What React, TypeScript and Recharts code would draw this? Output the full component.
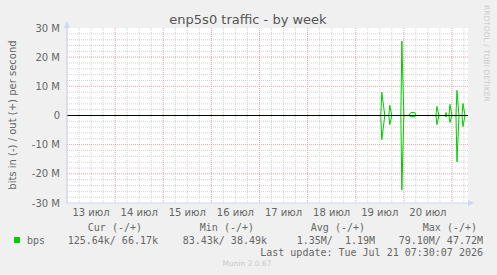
import React from "react";
import { ComposedChart, Line, XAxis, YAxis, ReferenceLine, CartesianGrid } from "recharts";

// hours since 13 Jul 00:00
const hours = [0, 156.5, 157, 158.5, 160.5, 161, 162, 166.5, 167, 168, 170.5, 171.5, 173.5, 174, 184, 184.5, 185.5, 188.5, 189, 189.5, 190.5, 191, 192, 194, 194.5, 195.5, 197, 197.5, 198.5, 200];
// out (+) in Mbit/s
const outMbps = [0.01, 0.01, 8.0, 0.01, 0.01, 3.5, 0.01, 0.01, 25.5, 0.02, 0.01, 1.0, 1.0, 0.01, 0.01, 3.1, 0.01, 0.01, 1.0, 0.01, 0.01, 3.8, 0.01, 0.01, 8.6, 0.02, 0.01, 4.1, 0.01, 0.02];
// in (-) in Mbit/s (drawn negative)
const inMbps = [0.01, 0.01, 8.3, 0.02, 0.01, 3.1, 0.02, 0.01, 25.5, 0.01, 0.01, 0.4, 0.4, 0.01, 0.01, 3.1, 0.01, 0.01, 0.5, 0.01, 0.01, 2.4, 0.01, 0.01, 15.9, 0.02, 0.01, 3.8, 0.01, 0.03];

const dayLabels = ["13 июл", "14 июл", "15 июл", "16 июл", "17 июл", "18 июл", "19 июл", "20 июл"];
const dayLabelTicks = [12, 36, 60, 84, 108, 132, 156, 180];
const yTicks = [-30, -20, -10, 0, 10, 20, 30];
const majorX = [0, 24, 48, 72, 96, 120, 144, 168, 192];
const minorX = [6, 12, 18, 30, 36, 42, 54, 60, 66, 78, 84, 90, 102, 108, 114, 126, 132, 138, 150, 156, 162, 174, 180, 186, 198];
const majorY = [-20, -10, 10, 20];
const minorY = [-28, -26, -24, -22, -18, -16, -14, -12, -8, -6, -4, -2, 2, 4, 6, 8, 12, 14, 16, 18, 22, 24, 26, 28];

const legendHeaders = ["Cur (-/+)", "Min (-/+)", "Avg (-/+)", "Max (-/+)"];
const legendValues = ["125.64k/ 66.17k", "83.43k/ 38.49k", "1.35M/  1.19M", "79.10M/ 47.72M"];

const data = hours.map((h, i) => ({ h, out: outMbps[i], inn: -inMbps[i], zero: 0 }));

const FONT = "DejaVu Sans, Verdana, sans-serif";
const MONO = "DejaVu Sans Mono, monospace";
const TXT = "#666666";
const AXIS = "#CFD6F8";

export default function App() {
  const headerEnds = [142, 254, 365, 477];
  const valueEnds = [158, 267, 375, 483];
  return (
    <div style={{ position: "absolute", left: 0, top: 0, width: 497, height: 275, background: "#f0f0f0" }}>
      <ComposedChart width={497} height={275} data={data} margin={{ top: 28, right: 29, left: 7, bottom: 52 }}>
        <CartesianGrid fill="#ffffff" stroke="transparent" />
        {minorX.map((v) => (
          <ReferenceLine key={"mx" + v} x={v} stroke="#d2d2d2" strokeDasharray="1 1" />
        ))}
        {minorY.map((v) => (
          <ReferenceLine key={"my" + v} y={v} stroke="#d2d2d2" strokeDasharray="1 1" />
        ))}
        {majorX.map((v) => (
          <ReferenceLine key={"Mx" + v} x={v} stroke="#dfa4a4" strokeDasharray="1 1" />
        ))}
        {majorY.map((v) => (
          <ReferenceLine key={"My" + v} y={v} stroke="#dfa4a4" strokeDasharray="1 1" />
        ))}
        <XAxis
          dataKey="h"
          type="number"
          domain={[0, 200]}
          ticks={dayLabelTicks}
          tickFormatter={(v: number) => dayLabels[dayLabelTicks.indexOf(v)] ?? ""}
          tickLine={false}
          axisLine={{ stroke: AXIS }}
          height={20}
          tick={{ fill: TXT, fontSize: 10, fontFamily: FONT }}
          tickSize={4}
          interval={0}
        />
        <YAxis
          type="number"
          domain={[-30, 30]}
          ticks={yTicks}
          tickFormatter={(v: number) => (v === 0 ? "0" : `${v} M`)}
          tickLine={false}
          axisLine={{ stroke: AXIS }}
          width={60}
          tickSize={5}
          tickMargin={2}
          tick={{ fill: TXT, fontSize: 10, fontFamily: FONT }}
          interval={0}
        />
        <Line type="linear" dataKey="out" stroke="#00cc00" strokeWidth={1} dot={false} isAnimationActive={false} />
        <Line type="linear" dataKey="inn" stroke="#00cc00" strokeWidth={1} dot={false} isAnimationActive={false} />
        <Line type="linear" dataKey="zero" stroke="#000000" strokeWidth={1.2} dot={false} isAnimationActive={false} />
      </ComposedChart>
      <svg width={497} height={275} style={{ position: "absolute", left: 0, top: 0, pointerEvents: "none" }}>
        <text x={248} y={23.5} textAnchor="middle" fontFamily={FONT} fontSize={13} fill="#555555">
          enp5s0 traffic - by week
        </text>
        <text
          x={0}
          y={0}
          transform="translate(15.5,115) rotate(-90)"
          textAnchor="middle"
          fontFamily={FONT}
          fontSize={10}
          fill={TXT}
        >
          bits in (-) / out (+) per second
        </text>
        <text
          x={0}
          y={0}
          transform="translate(484,5) rotate(90)"
          textAnchor="start"
          fontFamily={FONT}
          fontSize={7.5}
          fill="#cccccc"
        >
          RRDTOOL / TOBI OETIKER
        </text>
        <polygon points="64,28 70,28 67,21" fill={AXIS} />
        <polygon points="468,200 468,206 474,203" fill={AXIS} />
        {legendHeaders.map((t, i) => (
          <text key={t} x={headerEnds[i]} y={231} textAnchor="end" fontFamily={MONO} fontSize={10} fill={TXT} style={{ whiteSpace: "pre" }}>
            {t}
          </text>
        ))}
        <rect x={14} y={237} width={6} height={6} fill="#00cc00" />
        <text x={27} y={243.5} fontFamily={MONO} fontSize={10} fill={TXT}>
          bps
        </text>
        {legendValues.map((t, i) => (
          <text key={t} x={valueEnds[i]} y={243.5} textAnchor="end" fontFamily={MONO} fontSize={10} fill={TXT} style={{ whiteSpace: "pre" }} xmlSpace="preserve">
            {t}
          </text>
        ))}
        <text x={483} y={255.5} textAnchor="end" fontFamily={MONO} fontSize={10} fill={TXT}>
          Last update: Tue Jul 21 07:30:07 2026
        </text>
        <text x={247} y={266} textAnchor="middle" fontFamily={FONT} fontSize={7.5} fill="#c8c8c8">
          Munin 2.0.67
        </text>
      </svg>
    </div>
  );
}
